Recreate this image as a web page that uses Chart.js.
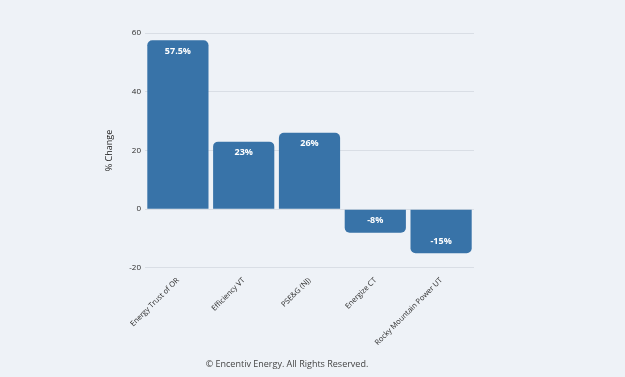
<!DOCTYPE html>
<html>
<head>
<meta charset="utf-8">
<script src="https://cdn.jsdelivr.net/npm/chart.js@4.4.1/dist/chart.umd.min.js"></script>
<style>
  html, body { margin: 0; padding: 0; background: #eef2f7; }
  #wrap { width: 625px; height: 377px; }
</style>
</head>
<body>
<div id="wrap"><canvas id="change-chart"></canvas></div>
<script>
const programs = ["Energy Trust of OR", "Efficiency VT", "PSE&G (NJ)", "Energize CT", "Rocky Mountain Power UT"];
const pctChange = [57.5, 23, 26, -8, -15];
const valueLabels = ["57.5%", "23%", "26%", "-8%", "-15%"];
const yTicks = [-20, 0, 20, 40, 60];

const chartCanvas = document.getElementById("change-chart").getContext("2d");

// white labels inside the end of each bar
const barLabels = {
  id: "barLabels",
  afterDatasetsDraw(chart) {
    const { ctx } = chart;
    const meta = chart.getDatasetMeta(0);
    ctx.save();
    ctx.fillStyle = "#ffffff";
    ctx.font = "bold 9px 'Open Sans'";
    ctx.textAlign = "center";
    ctx.textBaseline = "middle";
    meta.data.forEach((bar, i) => {
      const neg = pctChange[i] < 0;
      const y = neg ? bar.y - 12 : bar.y + 11;
      ctx.fillText(valueLabels[i], bar.x, y);
    });
    ctx.restore();
  },
};

Chart.defaults.font.family = "'Open Sans'";
Chart.defaults.color = "#2b2b2b";

new Chart(chartCanvas, {
  type: "bar",
  data: {
    labels: programs,
    datasets: [
      {
        data: pctChange,
        backgroundColor: "#3873a8",
        borderRadius: 5,
        barPercentage: 0.93,
        categoryPercentage: 1,
      },
    ],
  },
  options: {
    responsive: true,
    maintainAspectRatio: false,
    animation: false,
    layout: { padding: { left: 100, right: 151, top: 33, bottom: 3 } },
    scales: {
      x: {
        grid: { display: false },
        border: { display: false },
        ticks: {
          font: { size: 7.5 },
          maxRotation: 45,
          minRotation: 45,
          padding: 0,
        },
      },
      y: {
        min: -20,
        max: 60,
        afterFit(scale) { scale.width = 45; },
        afterBuildTicks(scale) { scale.ticks = yTicks.map((v) => ({ value: v })); },
        grid: { color: "#d9dee5", drawTicks: false },
        border: { display: false },
        ticks: { font: { size: 8 }, padding: 4 },
        title: { display: true, text: "% Change", font: { size: 9 }, color: "#222" },
      },
    },
    plugins: {
      legend: { display: false },
      tooltip: { enabled: false },
      title: {
        display: true,
        position: "bottom",
        text: "© Encentiv Energy. All Rights Reserved.",
        font: { size: 9, weight: "normal" },
        color: "#444",
        padding: { top: 12, bottom: 4 },
      },
    },
  },
  plugins: [barLabels],
});
</script>
</body>
</html>
